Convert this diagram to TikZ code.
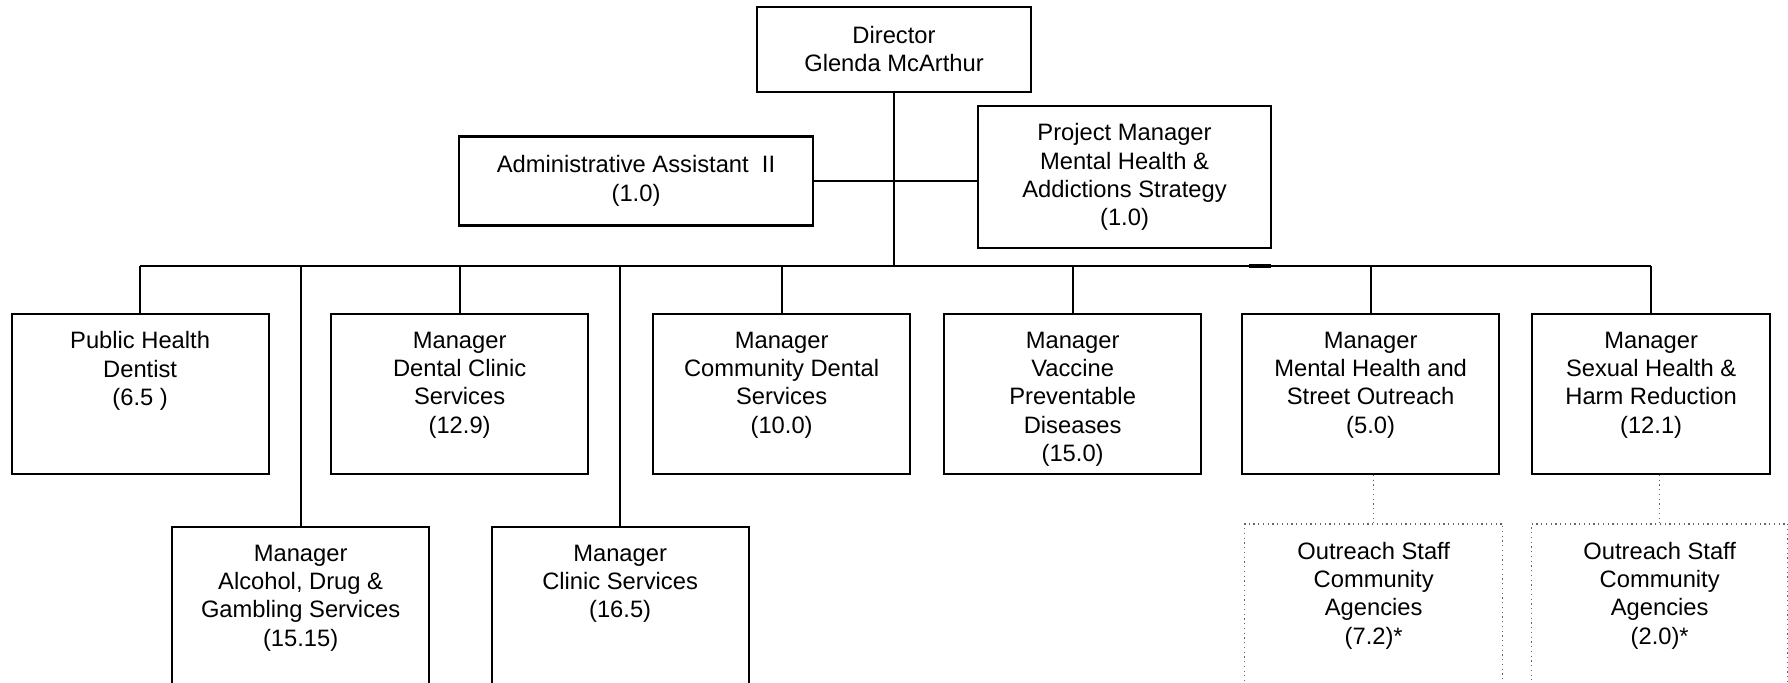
\documentclass[tikz,border=0pt]{standalone}
\usepackage{fontspec}
\setmainfont{Liberation Sans}
\newcommand\mytb[3]{\parbox[c][#2][t]{#1}{\centering\vspace*{0.18cm}#3\par}}
\begin{document}
\begin{tikzpicture}[x=0.01cm,y=-0.01cm,
  font=\fontsize{6.75pt}{8.05pt}\selectfont,
  topbox/.style={draw=black,line width=0.6pt,inner sep=0pt,align=center},
  orgbox/.style={draw=black,line width=0.6pt,inner sep=0pt,anchor=north west},
  dotbox/.style={draw=black!60,densely dotted,line width=0.35pt,inner sep=0pt,anchor=north west},
  conn/.style={line width=0.55pt},
  dotconn/.style={draw=black!60,densely dotted,line width=0.35pt}]
\useasboundingbox (0,0) rectangle (1788,683);
\clip (0,0) rectangle (1788,683);
% top
\node[topbox,minimum width=2.74cm,minimum height=0.85cm] (dir) at (894,49.3) {Director\\Glenda McArthur};
\node[topbox,minimum width=3.53cm,minimum height=0.89cm] (adm) at (636,181) {Administrative Assistant~ II\\(1.0)};
\node[topbox,minimum width=2.93cm,minimum height=1.42cm] (pm) at (1124.5,177.2) {Project Manager\\Mental Health \&\\Addictions Strategy\\(1.0)};
% row 1
\node[orgbox] (phd) at (10.5,312.7) {\mytb{2.57cm}{1.6cm}{Public Health\\Dentist\\(6.5 )}};
\node[orgbox] (dcs) at (330,312.7) {\mytb{2.57cm}{1.6cm}{Manager\\Dental Clinic\\Services\\(12.9)}};
\node[orgbox] (cds) at (652,312.7) {\mytb{2.57cm}{1.6cm}{Manager\\Community Dental\\Services\\(10.0)}};
\node[orgbox] (vpd) at (943,312.7) {\mytb{2.57cm}{1.6cm}{Manager\\Vaccine\\Preventable\\Diseases\\(15.0)}};
\node[orgbox] (mhs) at (1241,312.7) {\mytb{2.57cm}{1.6cm}{Manager\\Mental Health and\\Street Outreach\\(5.0)}};
\node[orgbox] (shr) at (1531,312.7) {\mytb{2.38cm}{1.6cm}{Manager\\Sexual Health \&\\Harm Reduction\\(12.1)}};
% row 2
\node[orgbox] (adg) at (171,525.7) {\mytb{2.57cm}{2.2cm}{Manager\\Alcohol, Drug \&\\Gambling Services\\(15.15)}};
\node[orgbox] (cls) at (490.5,525.7) {\mytb{2.57cm}{2.2cm}{Manager\\Clinic Services\\(16.5)}};
\node[dotbox] (os1) at (1244,523.3) {\mytb{2.58cm}{2.2cm}{Outreach Staff\\Community\\Agencies\\(7.2)*}};
\node[dotbox] (os2) at (1531,523.3) {\mytb{2.56cm}{2.2cm}{Outreach Staff\\Community\\Agencies\\(2.0)*}};
% connectors
\coordinate (busC) at (894,266);
\draw[conn] (dir.south) -- (busC);
\draw[conn] (adm.east) -- (pm.west |- adm.east);
\draw[conn] (phd.north |- busC) -- (shr.north |- busC);
\draw[line width=1.1pt] (1249,266) -- (1271,266);
\foreach \n in {phd,dcs,cds,vpd,mhs,shr,adg,cls}
  \draw[conn] (\n.north) -- (\n.north |- busC);
\draw[dotconn] (mhs.south -| os1.north) -- (os1.north);
\draw[dotconn] (shr.south -| os2.north) -- (os2.north);
\end{tikzpicture}
\end{document}
